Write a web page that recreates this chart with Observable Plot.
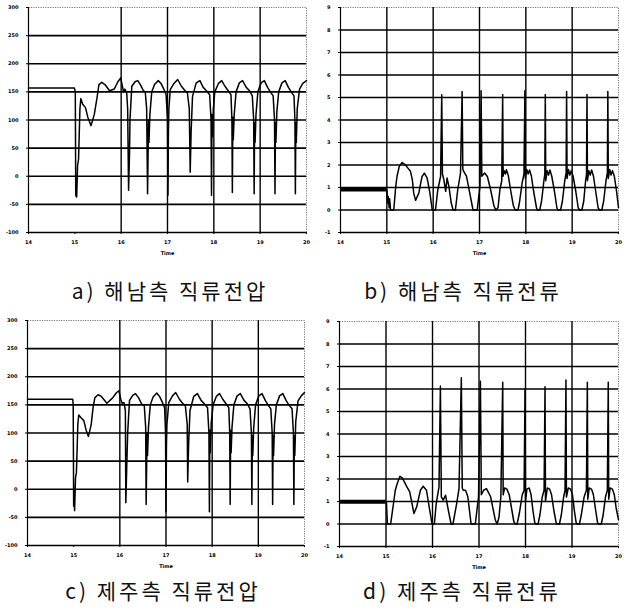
<!DOCTYPE html>
<html>
<head>
<meta charset="utf-8">
<script src="https://cdn.jsdelivr.net/npm/d3@7"></script>
<script src="https://cdn.jsdelivr.net/npm/@observablehq/plot@0.6"></script>
<style>
  html, body { margin: 0; padding: 0; background: #fff; }
  #wrap { position: relative; width: 629px; height: 615px; overflow: hidden; background: #fff; }
  .pane { position: absolute; }
  .cap { position: absolute; width: 300px; text-align: center; font-family: "Noto Sans CJK KR", "Noto Sans", sans-serif;
         font-size: 21px; line-height: 26px; letter-spacing: 3px; color: #111; }
</style>
</head>
<body>
<div id="wrap"></div>
<script>
// ---------- tick labels ----------
const xTicks = [14, 15, 16, 17, 18, 19, 20];
const voltTicks = [-100, -50, 0, 50, 100, 150, 200, 250, 300];
const curTicks = [-1, 0, 1, 2, 3, 4, 5, 6, 7, 8, 9];
const voltGridX = [16, 17, 18, 19];
const curGridX = [15, 16, 17, 18, 19];
const captions = ["a) 해남측 직류전압", "b) 해남측 직류전류", "c) 제주측 직류전압", "d) 제주측 직류전류"];

// ---------- a) Haenam DC voltage ----------
const hnVoltT = [14.00,14.99,15.01,15.02,15.03,15.04,15.06,15.08,15.11,15.13,15.17,15.23,15.28,15.35,15.42,15.48,15.52,15.58,15.65,15.75,15.85,15.93,15.99,16.02,16.05,16.08,16.12,16.14,16.16,16.18,16.19,16.21,16.23,16.30,16.36,16.42,16.48,16.52,16.55,16.57,16.59,16.60,16.62,16.66,16.72,16.80,16.86,16.92,16.97,17.00,17.01,17.02,17.03,17.06,17.14,17.22,17.30,17.37,17.43,17.47,17.49,17.51,17.54,17.62,17.70,17.77,17.84,17.91,17.94,17.95,17.96,17.97,17.99,18.02,18.10,18.17,18.24,18.31,18.37,18.39,18.40,18.41,18.42,18.44,18.48,18.55,18.62,18.70,18.77,18.83,18.86,18.87,18.88,18.89,18.91,18.95,19.02,19.09,19.16,19.22,19.28,19.31,19.32,19.33,19.34,19.36,19.40,19.47,19.54,19.61,19.67,19.73,19.75,19.76,19.77,19.78,19.80,19.85,19.92,20.00];
const hnVolt  = [157,157,150,-35,-10,-37,20,30,120,138,128,122,105,90,110,140,163,167,163,152,155,168,175,163,150,155,148,120,-25,40,100,130,160,168,170,162,152,150,120,-31,100,60,110,150,163,170,165,155,145,100,-34,80,120,154,165,172,160,153,148,120,7,80,142,166,170,158,152,145,100,-34,110,70,120,150,165,170,160,152,145,100,-29,105,65,110,150,166,170,158,152,143,100,-31,95,60,110,150,166,170,158,150,143,100,-31,95,60,115,150,166,170,158,150,143,100,-31,95,60,120,155,165,170];

// ---------- b) Haenam DC current ----------
const hnCurBandT = [14, 15];
const hnCurBandLo = [0.8, 0.8];
const hnCurBandHi = [1.0, 1.0];
const hnCurT = [15.00,15.02,15.03,15.05,15.06,15.08,15.15,15.19,15.22,15.27,15.33,15.40,15.46,15.51,15.55,15.58,15.62,15.69,15.76,15.81,15.87,15.93,15.98,16.05,16.10,16.16,16.185,16.20,16.23,16.27,16.30,16.34,16.39,16.43,16.48,16.53,16.59,16.625,16.64,16.66,16.72,16.79,16.86,16.95,17.01,17.035,17.05,17.11,17.17,17.24,17.31,17.35,17.40,17.44,17.48,17.50,17.51,17.53,17.56,17.58,17.62,17.67,17.73,17.77,17.83,17.86,17.92,17.96,17.98,17.99,18.02,18.05,18.08,18.12,18.17,18.23,18.25,18.30,18.34,18.39,18.41,18.42,18.43,18.46,18.49,18.52,18.56,18.62,18.67,18.69,18.75,18.79,18.84,18.87,18.88,18.89,18.92,18.95,18.98,19.02,19.08,19.13,19.16,19.21,19.25,19.29,19.31,19.32,19.33,19.36,19.39,19.42,19.46,19.51,19.56,19.59,19.64,19.68,19.73,19.76,19.77,19.78,19.81,19.84,19.87,19.91,19.96,20.00];
const hnCur  = [0.9,0.3,0.6,0.1,0.5,0.0,0.0,1.0,1.5,1.95,2.11,2.01,1.85,1.72,1.35,0.75,0.43,0.75,1.49,1.64,1.42,0.75,0.0,0.0,0.9,1.49,5.12,1.6,1.35,0.83,1.42,1.05,0.31,0.0,0.0,0.9,1.64,5.27,1.8,1.72,1.49,0.75,0.0,0.0,1.05,5.3,1.5,1.64,1.49,0.9,0.2,0.0,0.1,0.9,1.3,5.13,1.5,1.75,1.6,1.79,1.55,0.9,0.2,0.0,0.0,0.3,1.2,1.6,5.3,1.4,1.8,1.6,1.78,1.5,0.8,0.1,0.0,0.0,0.4,1.3,1.6,5.13,1.3,1.75,1.55,1.78,1.5,0.8,0.1,0.0,0.0,0.4,1.3,1.65,5.27,1.4,1.8,1.55,1.75,1.5,0.8,0.1,0.0,0.0,0.4,1.3,1.6,5.13,1.3,1.75,1.55,1.78,1.5,0.8,0.1,0.0,0.0,0.4,1.3,1.65,5.27,1.4,1.8,1.55,1.75,1.5,0.8,0.1];

// ---------- c) Jeju DC voltage ----------
const jjVoltT = [14.00,14.98,14.99,15.00,15.01,15.02,15.04,15.06,15.09,15.11,15.16,15.22,15.27,15.32,15.38,15.42,15.46,15.53,15.60,15.72,15.84,15.93,15.98,16.02,16.05,16.09,16.12,16.13,16.15,16.17,16.19,16.21,16.28,16.34,16.41,16.47,16.53,16.56,16.57,16.59,16.60,16.62,16.66,16.72,16.80,16.86,16.92,16.97,16.99,17.00,17.01,17.02,17.06,17.14,17.21,17.29,17.36,17.42,17.46,17.47,17.49,17.52,17.60,17.68,17.76,17.83,17.90,17.93,17.94,17.95,17.96,17.98,18.02,18.09,18.16,18.23,18.30,18.36,18.38,18.39,18.40,18.41,18.43,18.47,18.54,18.61,18.69,18.76,18.82,18.85,18.86,18.87,18.88,18.90,18.94,19.01,19.08,19.15,19.21,19.27,19.30,19.31,19.32,19.33,19.35,19.39,19.46,19.53,19.60,19.66,19.73,19.76,19.77,19.78,19.79,19.81,19.86,19.93,20.00];
const jjVolt  = [160,160,150,-30,0,-38,20,30,115,132,127,122,105,94,115,145,163,168,165,153,162,172,175,160,153,154,140,-24,41,100,130,158,167,170,162,152,148,110,-27,100,60,110,150,164,171,165,155,145,100,-40,80,115,154,166,172,160,153,148,115,13,80,140,165,170,158,152,145,100,-40,105,65,118,150,165,170,160,152,145,100,-27,105,65,110,150,166,170,158,152,143,100,-27,95,60,110,150,166,170,158,150,143,100,-27,95,60,115,150,166,170,158,150,143,100,-27,95,60,120,157,166,172];

// ---------- d) Jeju DC current ----------
const jjCurBandT = [14, 15];
const jjCurBandLo = [0.88, 0.88];
const jjCurBandHi = [1.06, 1.06];
const jjCurT = [15.01,15.03,15.10,15.16,15.20,15.24,15.30,15.35,15.40,15.45,15.51,15.56,15.60,15.66,15.74,15.80,15.87,15.94,15.99,16.04,16.08,16.14,16.17,16.19,16.23,16.28,16.34,16.40,16.44,16.52,16.57,16.62,16.64,16.66,16.71,16.76,16.83,16.92,16.99,17.03,17.05,17.10,17.16,17.25,17.35,17.39,17.43,17.47,17.51,17.52,17.55,17.60,17.65,17.70,17.75,17.78,17.82,17.87,17.93,17.97,17.99,18.00,18.03,18.08,18.12,18.16,18.20,18.22,18.27,18.31,18.36,18.40,18.42,18.43,18.47,18.52,18.56,18.61,18.66,18.68,18.73,18.77,18.82,18.85,18.87,18.88,18.92,18.97,19.01,19.05,19.09,19.11,19.16,19.20,19.26,19.31,19.33,19.34,19.37,19.42,19.46,19.51,19.55,19.58,19.63,19.67,19.72,19.76,19.78,19.79,19.82,19.87,19.91,19.95,19.99,20.00];
const jjCur  = [0.95,0.0,0.0,0.9,1.5,1.79,2.12,2.05,1.85,1.65,1.43,0.91,0.47,0.76,1.5,1.68,1.5,0.62,0.0,0.0,0.91,1.65,6.13,1.21,1.06,1.28,0.62,0.0,0.0,0.91,1.57,6.5,1.6,1.5,1.5,1.21,0.0,0.0,1.21,6.35,1.3,1.5,1.57,1.21,0.18,0.0,0.3,1.2,6.3,1.3,1.6,1.55,1.3,0.7,0.1,0.0,0.0,0.5,1.3,1.5,6.0,1.0,1.55,1.6,1.3,0.6,0.05,0.0,0.0,0.4,1.2,1.5,6.1,1.0,1.6,1.55,1.3,0.6,0.05,0.0,0.0,0.4,1.2,1.5,6.4,1.2,1.6,1.55,1.3,0.6,0.05,0.0,0.0,0.4,1.2,1.5,6.3,1.1,1.6,1.55,1.3,0.6,0.05,0.0,0.0,0.4,1.2,1.5,6.3,1.1,1.6,1.55,1.3,0.7,0.3,0.2];

// ---------- drawing ----------
const wrap = document.getElementById("wrap");

function panel({left, top, width, ml, domain, yTicks, gridX, t, v, band}) {
  const data = t.map((tt, i) => ({t: tt, v: v[i]}));
  const marks = [
    Plot.frame({stroke: "#555", strokeWidth: 0.8, strokeDasharray: "1.2,1.2"}),
    Plot.ruleY(yTicks.slice(0, -1), {stroke: "#000", strokeWidth: 1.6}),
    Plot.ruleX(gridX, {stroke: "#000", strokeWidth: 1.4}),
    Plot.ruleX([14], {stroke: "#000", strokeWidth: 1.2})
  ];
  if (band) {
    const bd = band.t.map((tt, i) => ({t: tt, lo: band.lo[i], hi: band.hi[i]}));
    marks.push(Plot.areaY(bd, {x: "t", y1: "lo", y2: "hi", fill: "#000"}));
  }
  marks.push(Plot.line(data, {x: "t", y: "v", stroke: "#000", strokeWidth: 1.5}));
  const svg = Plot.plot({
    width, height: 262,
    marginLeft: ml, marginRight: 8, marginTop: 7, marginBottom: 30,
    style: {fontFamily: "DejaVu Sans", fontSize: "5px", fontWeight: "bold", color: "#000", background: "transparent"},
    x: {domain: [14, 20], ticks: xTicks, tickFormat: d => String(d), tickSize: 2, tickPadding: 6,
        label: "Time", labelAnchor: "center", labelArrow: "none", labelOffset: 22},
    y: {domain, ticks: yTicks, tickFormat: d => String(d), tickSize: 2, tickPadding: 8, label: null},
    marks
  });
  const div = document.createElement("div");
  div.className = "pane";
  div.style.left = left + "px";
  div.style.top = top + "px";
  div.appendChild(svg);
  wrap.appendChild(div);
}

function caption(text, cx, cy) {
  const d = document.createElement("div");
  d.className = "cap";
  d.textContent = text;
  d.style.left = (cx - 150) + "px";
  d.style.top = (cy - 13) + "px";
  wrap.appendChild(d);
}

panel({left: 0, top: 0, width: 314, ml: 28, domain: [-100, 300], yTicks: voltTicks, gridX: voltGridX, t: hnVoltT, v: hnVolt});
panel({left: 312, top: 0, width: 314, ml: 28, domain: [-1, 9], yTicks: curTicks, gridX: curGridX, t: hnCurT, v: hnCur,
       band: {t: hnCurBandT, lo: hnCurBandLo, hi: hnCurBandHi}});
panel({left: 0, top: 313, width: 312, ml: 27, domain: [-100, 300], yTicks: voltTicks, gridX: voltGridX, t: jjVoltT, v: jjVolt});
panel({left: 311, top: 314, width: 315, ml: 28, domain: [-1, 9], yTicks: curTicks, gridX: curGridX, t: jjCurT, v: jjCur,
       band: {t: jjCurBandT, lo: jjCurBandLo, hi: jjCurBandHi}});

caption(captions[0], 170, 290);
caption(captions[1], 463, 290);
caption(captions[2], 163, 590);
caption(captions[3], 462, 590);
</script>
</body>
</html>
